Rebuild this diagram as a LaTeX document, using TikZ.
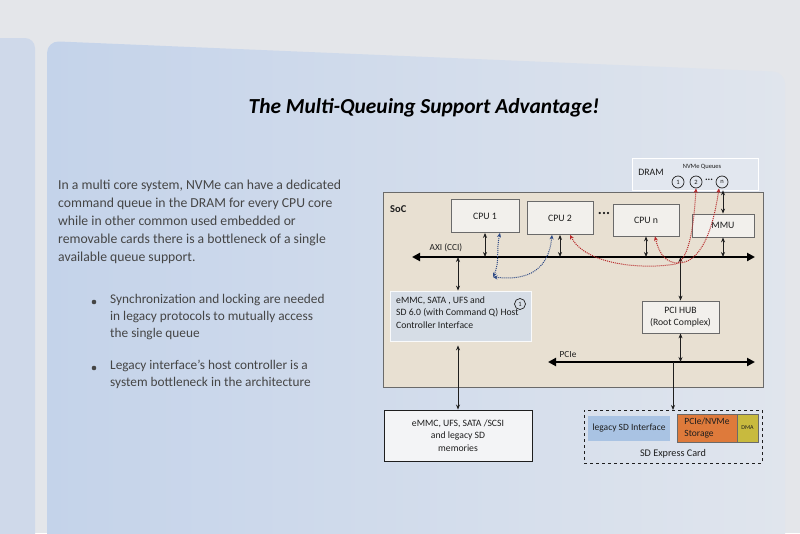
\documentclass[tikz,border=0pt]{standalone}
\usepackage{fontspec}
\setmainfont{Carlito}
\usetikzlibrary{arrows.meta,calc}
\definecolor{wall}{HTML}{E4E6EA}
\definecolor{slideL}{HTML}{C4D3EA}
\definecolor{slideR}{HTML}{E0E5ED}
\definecolor{strip}{HTML}{CFD9EA}
\definecolor{socfill}{HTML}{E8E0D2}
\definecolor{cpufill}{HTML}{F2F0EC}
\definecolor{boxgray}{HTML}{6A6A6A}
\definecolor{dramfill}{HTML}{E2E7EF}
\definecolor{hostfill}{HTML}{D6DDE6}
\definecolor{legblue}{HTML}{A9C3E3}
\definecolor{nvmeor}{HTML}{DE7A3B}
\definecolor{dmay}{HTML}{C8BA3E}
\definecolor{txt}{HTML}{1E1E1E}
\definecolor{bodytxt}{HTML}{454545}
\definecolor{redarr}{HTML}{B8282A}
\definecolor{bluearr}{HTML}{2E4A86}
\begin{document}
\begin{tikzpicture}[x=1pt,y=-1pt,
  box/.style={draw=boxgray, line width=0.8pt, fill=cpufill, text=txt,
    font=\fontsize{9.8}{12}\selectfont, inner sep=1pt, align=center},
  barrow/.style={{Stealth[length=5pt,width=4pt]}-{Stealth[length=5pt,width=4pt]}, line width=0.9pt, draw=txt},
  sarrow/.style={-{Stealth[length=5pt,width=4pt]}, line width=0.9pt, draw=txt},
  bus/.style={{Triangle[length=8pt,width=8pt]}-{Triangle[length=8pt,width=8pt]}, line width=2.2pt, draw=black},
  reddot/.style={densely dotted, draw=redarr, line width=1pt, {Stealth[length=4.5pt,width=4pt]}-{Stealth[length=4.5pt,width=4pt]}},
  bluedot/.style={densely dotted, draw=bluearr, line width=1pt, {Stealth[length=4.5pt,width=4pt]}-{Stealth[length=4.5pt,width=4pt]}},
  lbl/.style={text=txt, font=\fontsize{9.8}{12}\selectfont, inner sep=0pt},
  queue/.style={circle, draw=txt, line width=0.7pt, minimum size=12pt, inner sep=0pt, font=\fontsize{6.5}{7}\selectfont, text=txt}
]
\useasboundingbox (0,0) rectangle (800,533);
% background wall and slides
\fill[wall] (0,0) rectangle (800,533);
\fill[strip, rounded corners=10pt] (-20,560) -- (-20,38) -- (35,38) -- (35,560) -- cycle;
\shade[left color=slideL, right color=slideR, rounded corners=12pt]
  (47,560) -- (47,41) -- (785,72) -- (785,560) -- cycle;

% title
\node[font=\fontsize{21.4}{25}\selectfont\bfseries\itshape, text=black] (title) at (424,108)
  {The Multi-Queuing Support Advantage!};

% left text
\node[anchor=north west, align=left, text=bodytxt, font=\fontsize{13.7}{18}\selectfont, inner sep=0pt] (para) at (58,180)
  {In a multi core system, NVMe can have a dedicated\\
   command queue in the DRAM for every CPU core\\
   while in other common used embedded or\\
   removable cards there is a bottleneck of a single\\
   available queue support.};
\node[anchor=north west, align=left, text=bodytxt, font=\fontsize{13.3}{17}\selectfont, inner sep=0pt] (b1) at (110,294)
  {Synchronization and locking are needed\\
   in legacy protocols to mutually access\\
   the single queue};
\node[anchor=north west, align=left, text=bodytxt, font=\fontsize{13.3}{17}\selectfont, inner sep=0pt] (b2) at (110,360)
  {Legacy interface’s host controller is a\\
   system bottleneck in the architecture};
\fill[bodytxt] (94,302) circle (2.3);
\fill[bodytxt] (94,368) circle (2.3);

% DRAM
\node[fill=dramfill, draw=white, line width=0.6pt, minimum width=126pt, minimum height=32pt, inner sep=0pt] (dram) at (695,174) {};
\node[lbl, font=\fontsize{9.8}{11}\selectfont] (dramlbl) at (651,172) {DRAM};
\node[lbl, font=\fontsize{6.5}{7}\selectfont] (nvq) at (702,167) {NVMe Queues};
\node[queue] (q1) at (678,182) {1};
\node[queue] (q2) at (696,182) {2};
\node[lbl, font=\fontsize{10}{10}\selectfont\bfseries] (qdots) at (709,180) {...};
\node[queue] (qn) at (722,182) {n};

% SoC
\node[draw=boxgray, line width=1pt, fill=socfill, minimum width=380pt, minimum height=195pt, inner sep=0pt] (soc) at (573,289.5) {};
\node[lbl, font=\fontsize{10.5}{12}\selectfont\bfseries, anchor=west] (soclbl) at (390,209) {SoC};

% CPUs and MMU
\node[box, minimum width=68pt, minimum height=33pt] (cpu1) at (485,216) {CPU 1};
\node[box, minimum width=66pt, minimum height=33pt] (cpu2) at (560,218) {CPU 2};
\node[lbl, font=\fontsize{15}{15}\selectfont\bfseries] (cdots) at (604,213) {...};
\node[box, minimum width=66pt, minimum height=32pt] (cpun) at (646,220) {CPU n};
\node[box, minimum width=62pt, minimum height=23pt] (mmu) at (723,225.5) {MMU};

% AXI bus
\coordinate (axiL) at (412,257);
\coordinate (axiR) at (755,257);
\draw[bus] (axiL) -- (axiR);
\node[lbl, font=\fontsize{9.3}{10}\selectfont] (axilbl) at (446,248) {AXI (CCI)};

\draw[barrow] (cpu1.south) -- (cpu1.south |- axiL);
\draw[barrow] (cpu2.south) -- (cpu2.south |- axiL);
\draw[barrow] (cpun.south) -- (cpun.south |- axiL);
\draw[barrow] (mmu.south) -- (mmu.south |- axiL);
\draw[barrow] (mmu.north) -- (mmu.north |- dram.south);

% host controller
\node[fill=hostfill, draw=white!85!hostfill, line width=0.8pt, minimum width=141pt, minimum height=50pt, inner sep=0pt] (host) at (460.5,316) {};
\node[lbl, anchor=north west, align=left, font=\fontsize{9.7}{12.5}\selectfont] (hosttxt) at (396,296.5)
  {eMMC, SATA , UFS and\\ SD 6.0 (with Command Q) Host\\ Controller Interface};
\node[queue, minimum size=11pt] (h1) at (520,304) {1};
\draw[barrow] (host.north -| 458,0) -- (458,257);

% PCI HUB
\node[box, minimum width=77pt, minimum height=32pt, font=\fontsize{9.7}{12}\selectfont] (pcihub) at (680.5,317) {PCI HUB\\(Root Complex)};
\draw[barrow] (pcihub.north) -- (pcihub.north |- axiL);

% PCIe bus
\coordinate (pcieL) at (548,362);
\coordinate (pcieR) at (755,362);
\draw[bus] (pcieL) -- (pcieR);
\node[lbl, font=\fontsize{9.3}{10}\selectfont] (pcielbl) at (568,355) {PCIe};
\draw[barrow] (pcihub.south) -- (pcihub.south |- pcieL);

% blue dotted arrows
\coordinate (bj) at (493,277);
\draw[bluedot] (bj) .. controls (500,262) and (496,250) .. ([xshift=15pt]cpu1.south);
\draw[bluedot] (bj) .. controls (520,280) and (548,276) .. ([xshift=-8pt]cpu2.south);

% red dotted arrows
\draw[reddot] ([xshift=10pt]cpu2.south) .. controls (585,264) and (640,270) .. (676,264) .. controls (690,259) and (694,222) .. (q2.south);
\draw[reddot] ([xshift=9pt]cpun.south) .. controls (660,258) and (670,266) .. (685,262) .. controls (705,255) and (714,222) .. ([xshift=-3pt]qn.south);

% bottom left memories
\node[draw=txt, line width=0.9pt, fill=white!55!wall, minimum width=148pt, minimum height=51pt, font=\fontsize{9.7}{12.5}\selectfont, text=txt, align=center, inner sep=0pt] (mem) at (458,435.5)
  {eMMC, UFS, SATA /SCSI\\ and legacy SD\\ memories};
\draw[barrow] ([yshift=-4pt]host.south -| 458,0) -- (mem.north -| 458,0);

% SD express card
\node[draw=txt, dashed, line width=0.9pt, minimum width=178pt, minimum height=53pt, inner sep=0pt] (sdx) at (673,436.5) {};
\node[fill=legblue, minimum width=82pt, minimum height=25pt, inner sep=0pt, font=\fontsize{9.5}{10}\selectfont, text=txt] (leg) at (629,428.5) {legacy SD Interface};
\node[fill=nvmeor, draw=boxgray, line width=0.6pt, minimum width=60pt, minimum height=28pt, inner sep=0pt, align=left, font=\fontsize{9.5}{11.5}\selectfont, text=txt] (nvme) at (707,428) {PCIe/NVMe\\Storage};
\node[fill=dmay, draw=boxgray, line width=0.6pt, minimum width=21pt, minimum height=28pt, inner sep=0pt, font=\fontsize{6}{6}\selectfont, text=txt] (dma) at (747.5,428) {DMA};
\node[lbl, font=\fontsize{10.2}{11}\selectfont] (sdxlbl) at (673,454) {SD Express Card};
\draw[sarrow] (673,362) -- (673,410);
\end{tikzpicture}
\end{document}
